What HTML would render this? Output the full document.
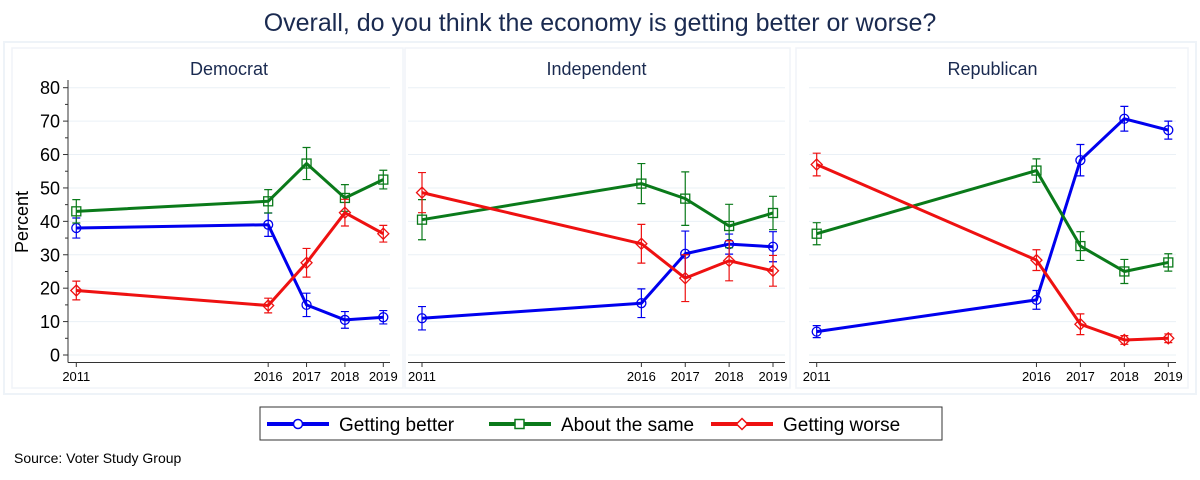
<!DOCTYPE html>
<html><head><meta charset="utf-8"><style>
body{margin:0;background:#fff;}
svg{display:block;font-family:"Liberation Sans",Arial,sans-serif;}
</style></head><body>
<svg id="chart" width="1200" height="480" viewBox="0 0 1200 480">
<rect x="0" y="0" width="1200" height="480" fill="#fff"/>
<rect x="4" y="42" width="1192" height="352" fill="none" stroke="#eef3f8" stroke-width="2"/>
<text x="600" y="31" text-anchor="middle" font-size="25" fill="#1a2a50">Overall, do you think the economy is getting better or worse?</text>
<text x="14" y="463" font-size="14" fill="#000">Source: Voter Study Group</text>
<g id="panels"></g>
<g>
<rect x="260" y="407" width="682" height="33" fill="#fff" stroke="#333" stroke-width="1"/>
<g>
<line x1="267" y1="424" x2="329" y2="424" stroke="#0000ee" stroke-width="4"/><circle cx="298" cy="424" r="4.5" fill="#fff" stroke="#0000ee" stroke-width="1.5"/>
<text x="339" y="431" font-size="19">Getting better</text></g>
<g>
<line x1="489" y1="424" x2="551" y2="424" stroke="#0a7a1a" stroke-width="4"/><rect x="515" y="419.5" width="9" height="9" fill="#fff" stroke="#0a7a1a" stroke-width="1.5"/>
<text x="561" y="431" font-size="19">About the same</text></g>
<g>
<line x1="711" y1="424" x2="773" y2="424" stroke="#ee1111" stroke-width="4"/><path d="M742 418.5 L747.5 424 L742 429.5 L736.5 424 Z" fill="#fff" stroke="#ee1111" stroke-width="1.5"/>
<text x="783" y="431" font-size="19">Getting worse</text></g>
</g>
</svg>
<script>
const years=[2011,2016,2017,2018,2019];
const panelNames=["Democrat","Independent","Republican"];
const yTicks=[0,10,20,30,40,50,60,70,80];
const demBetter=[38,39,15,10.5,11.3];
const demSame=[43,46,57.3,47,52.5];
const demWorse=[19.3,14.8,27.6,42.6,36.3];
const indBetter=[11,15.5,30.3,33.2,32.4];
const indSame=[40.5,51.3,46.8,38.6,42.5];
const indWorse=[48.6,33.3,23,28.2,25.2];
const repBetter=[7,16.5,58.3,70.7,67.3];
const repSame=[36.3,55.2,32.6,25,27.7];
const repWorse=[57,28.4,9.2,4.5,5];
const demErr=[[3,3.5,3.5,2.5,2],[3.5,3.5,4.8,4,2.8],[2.8,2.2,4.3,4,2.5]];
const indErr=[[3.5,4.3,6.8,3,4.5],[6,6,8,6.5,5],[6,5.8,7,6,4.6]];
const repErr=[[1.8,2.8,4.7,3.7,2.7],[3.3,3.5,4.3,3.6,2.6],[3.4,3.1,3.1,1.3,1.3]];
const NS="http://www.w3.org/2000/svg";
const g=document.getElementById("panels");
function el(t,a,p){const e=document.createElementNS(NS,t);for(const k in a)e.setAttribute(k,a[k]);(p||g).appendChild(e);return e;}
const panels=[
 {box:[12,48,391,340],x0:68,x1:390,xa:76.3,xb:383.3,data:[demBetter,demSame,demWorse],err:demErr,showY:true},
 {box:[405,48,385,340],x0:408,x1:785,xa:422,xb:773,data:[indBetter,indSame,indWorse],err:indErr,showY:false},
 {box:[796,48,392,340],x0:809,x1:1176,xa:816.7,xb:1168.3,data:[repBetter,repSame,repWorse],err:repErr,showY:false}];
const colors=["#0000ee","#0a7a1a","#ee1111"];
const sNames=["better","same","worse"];
const yPix=v=>355-v*(355-87.7)/80;
panels.forEach((p,pi)=>{
 const pg=el("g",{});
 
 
 el("rect",{x:p.box[0],y:p.box[1],width:p.box[2],height:p.box[3],fill:"#fff",stroke:"#f0f4f8","stroke-width":1.5},pg);
 const tt=el("text",{x:(p.x0+p.x1)/2,y:75,"text-anchor":"middle","font-size":18,fill:"#1a2a50"},pg);tt.textContent=panelNames[pi];
 
 
 const xPix=yr=>p.xa+(yr-2011)*(p.xb-p.xa)/8;
 yTicks.forEach(t=>{
  el("line",{x1:p.x0,x2:p.x1,y1:yPix(t),y2:yPix(t),stroke:"#eaf0f6","stroke-width":1},pg);
  if(p.showY){
   el("line",{x1:p.x0-5,x2:p.x0,y1:yPix(t),y2:yPix(t),stroke:"#333"},pg);
   const tl=el("text",{x:p.x0-8,y:yPix(t)+6.5,"text-anchor":"end","font-size":18},pg);tl.textContent=t;
   
   
   if(t<80) el("line",{x1:p.x0-3,x2:p.x0,y1:yPix(t+5),y2:yPix(t+5),stroke:"#333"},pg);
  }
 });
 if(p.showY){
  el("line",{x1:p.x0,x2:p.x0,y1:80,y2:362.5,stroke:"#333","stroke-width":1},pg);
  const yt=el("text",{x:28,y:222,"text-anchor":"middle","font-size":18,transform:"rotate(-90 28 222)"},pg);yt.textContent="Percent";
  
  
 }
 el("line",{x1:p.x0,x2:p.x1,y1:362.5,y2:362.5,stroke:"#333","stroke-width":1},pg);
 years.forEach(yr=>{
  el("line",{x1:xPix(yr),x2:xPix(yr),y1:362.5,y2:367,stroke:"#333"},pg);
  const xl=el("text",{x:xPix(yr),y:381,"text-anchor":"middle","font-size":13},pg);xl.textContent=yr;
  
  
 });
 p.data.forEach((vals,si)=>{
  const c=colors[si];
  const sg=el("g",{},pg);
  
  
  el("polyline",{points:vals.map((v,i)=>xPix(years[i])+","+yPix(v)).join(" "),fill:"none",stroke:c,"stroke-width":3,"stroke-linejoin":"round"},sg);
  vals.forEach((v,i)=>{
   const x=xPix(years[i]),e=p.err[si][i],ya=yPix(v+e),yb=yPix(v-e);
   el("path",{d:`M${x} ${ya}V${yb}M${x-4} ${ya}H${x+4}M${x-4} ${yb}H${x+4}`,stroke:c,"stroke-width":1.2,fill:"none"},sg);
   const y=yPix(v);
   let m;
   if(si==0) m=el("circle",{cx:x,cy:y,r:4.5,fill:"none",stroke:c,"stroke-width":1.3},sg);
   else if(si==1) m=el("rect",{x:x-4.5,y:y-4.5,width:9,height:9,fill:"none",stroke:c,"stroke-width":1.3},sg);
   else m=el("path",{d:`M${x} ${y-5.5}L${x+5.5} ${y}L${x} ${y+5.5}L${x-5.5} ${y}Z`,fill:"none",stroke:c,"stroke-width":1.3},sg);
   
   
  });
 });
});
</script>
</body></html>
